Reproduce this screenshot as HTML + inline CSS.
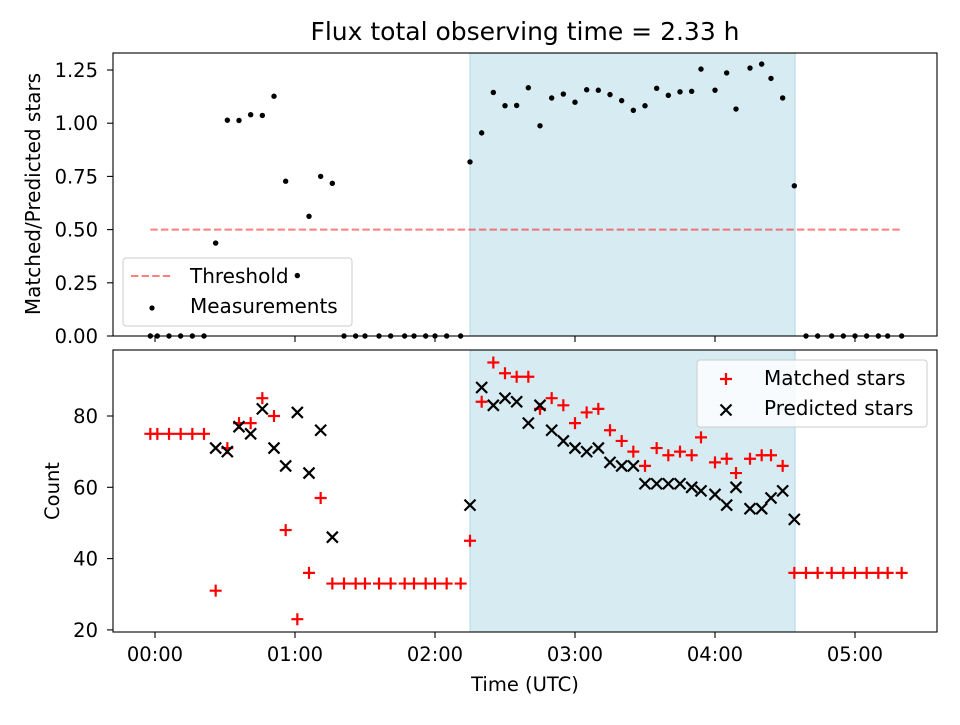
<!DOCTYPE html>
<html><head><meta charset="utf-8"><style>
body{margin:0;background:#fff}
svg text{font-family:"DejaVu Sans","Liberation Sans",sans-serif;fill:#000}
</style></head><body>
<svg id="chart" width="960" height="720" xmlns="http://www.w3.org/2000/svg">
<rect width="960" height="720" fill="#fff"/>
<text x="525" y="40" font-size="25" text-anchor="middle">Flux total observing time = 2.33 h</text>
<g id="topg"></g><g id="botg"></g>
<text transform="translate(40,194) rotate(-90)" font-size="20" text-anchor="middle">Matched/Predicted stars</text>
<text transform="translate(59,491) rotate(-90)" font-size="19.5" text-anchor="middle">Count</text>
<text x="525" y="691" font-size="19.5" text-anchor="middle">Time (UTC)</text>
</svg>
<script>
const times=[-2,1,6,11,16,21,26,31,36,41,46,51,56,61,66,71,76,81,86,90,96,101,107,111,116,120,125,131,135,140,145,150,155,160,165,170,175,180,185,190,195,200,205,210,215,220,225,230,234,240,245,249,255,260,264,269,274,279,284,290,295,300,305,310,314,320];
const matched=[75,75,75,75,75,75,31,71,78,78,85,80,48,23,36,57,33,33,33,33,33,33,33,33,33,33,33,33,45,84,95,92,91,91,82,85,83,78,81,82,76,73,70,66,71,69,70,69,74,67,68,64,68,69,69,66,36,36,36,36,36,36,36,36,36,36];
const predicted=[null,null,null,null,null,null,71,70,77,75,82,71,66,81,64,76,46,null,null,null,null,null,null,null,null,null,null,null,55,88,83,85,84,78,83,76,73,71,70,71,67,66,66,61,61,61,61,60,59,58,55,60,54,54,57,59,51,null,null,null,null,null,null,null,null,null];
const spanStart=135, spanEnd=274.3;
const threshold=0.5;
const topTicks=[0,0.25,0.5,0.75,1.0,1.25];
const botTicks=[20,40,60,80];
const xTicks=[0,1,2,3,4,5];
const xTickLabels=["00:00","01:00","02:00","03:00","04:00","05:00"];

const NS="http://www.w3.org/2000/svg";
const X=m=>155+m*140/60;
const YT=v=>336-v*212.8;
const YB=v=>416-(v-80)*3.565;
function mk(p,tag,a){const e=document.createElementNS(NS,tag);for(const k in a)e.setAttribute(k,a[k]);p.appendChild(e);return e;}
const gTop=document.getElementById('topg'),gBot=document.getElementById('botg');

function frame(g,y0,y1,name){
  const s=mk(g,'rect',{x:X(spanStart),y:y0,width:X(spanEnd)-X(spanStart),height:y1-y0,fill:'#add8e6','fill-opacity':0.5,stroke:'#add8e6'});
  
  
}
frame(gTop,53,336,'top');frame(gBot,350,632,'bottom');

function legend(g,x,y,w,h,name){
  const r=mk(g,'rect',{x:x,y:y,width:w,height:h,rx:3,fill:'#fff','fill-opacity':0.8,stroke:'#ccc'});
  
  
}
legend(gTop,123,258,229,68,'top-legend');
mk(gTop,'line',{x1:131,x2:173,y1:276,y2:276,stroke:'#ff0000','stroke-opacity':0.5,'stroke-width':2,'stroke-dasharray':'7.4,3.2'});
let t=mk(gTop,'text',{x:190,y:283,'font-size':20});t.textContent='Threshold';


mk(gTop,'circle',{cx:152,cy:308,r:2.6,fill:'#000'});
t=mk(gTop,'text',{x:190,y:313,'font-size':20});t.textContent='Measurements';



const th=mk(gTop,'line',{x1:X(times[0]),x2:X(times[times.length-1]),y1:YT(threshold),y2:YT(threshold),stroke:'#ff0000','stroke-opacity':0.5,'stroke-width':2,'stroke-dasharray':'7.4,3.2'});



times.forEach((t,i)=>{
  const r=predicted[i]?matched[i]/predicted[i]:0;
  const c=mk(gTop,'circle',{cx:X(t),cy:YT(r),r:2.7,fill:'#000'});
  
  
});
times.forEach((t,i)=>{
  const x=X(t),y=YB(matched[i]);
  const p=mk(gBot,'path',{d:`M${x-6},${y}H${x+6}M${x},${y-6}V${y+6}`,stroke:'#f00','stroke-width':2.2});
  
  
  if(predicted[i]!=null){
    const yy=YB(predicted[i]);
    const q=mk(gBot,'path',{d:`M${x-5.5},${yy-5.5}L${x+5.5},${yy+5.5}M${x-5.5},${yy+5.5}L${x+5.5},${yy-5.5}`,stroke:'#000','stroke-width':2.2});
    
    
  }
});

function axes(g,y0,y1,ticks,Y,fmt,labelsX,name){
  const r=mk(g,'rect',{x:113,y:y0,width:824,height:y1-y0,fill:'none',stroke:'#000','stroke-width':1.1});
  
  
  ticks.forEach(v=>{
    const y=Y(v);
    mk(g,'line',{x1:107,x2:113,y1:y,y2:y,stroke:'#000','stroke-width':1.1});
    const t=mk(g,'text',{x:98,y:y+7,'font-size':19.5,'text-anchor':'end'});t.textContent=fmt(v);
    
    
  });
  xTicks.forEach((h,i)=>{
    const x=X(h*60);
    mk(g,'line',{x1:x,x2:x,y1:y1,y2:y1+6,stroke:'#000','stroke-width':1.1});
    if(labelsX){const t=mk(g,'text',{x:x,y:661,'font-size':19.5,'text-anchor':'middle'});t.textContent=xTickLabels[i];
      
      }
  });
}
axes(gTop,53,336,topTicks,YT,v=>v.toFixed(2),false,'top');
axes(gBot,350,632,botTicks,YB,v=>String(v),true,'bottom');

legend(gBot,697,360,230,67,'bottom-legend');
mk(gBot,'path',{d:'M720,379H732M726,373V385',stroke:'#f00','stroke-width':2.2});
t=mk(gBot,'text',{x:764,y:385,'font-size':20});t.textContent='Matched stars';


mk(gBot,'path',{d:'M720.5,404.5L731.5,415.5M720.5,415.5L731.5,404.5',stroke:'#000','stroke-width':2.2});
t=mk(gBot,'text',{x:764,y:415,'font-size':20});t.textContent='Predicted stars';


</script>
</body></html>
